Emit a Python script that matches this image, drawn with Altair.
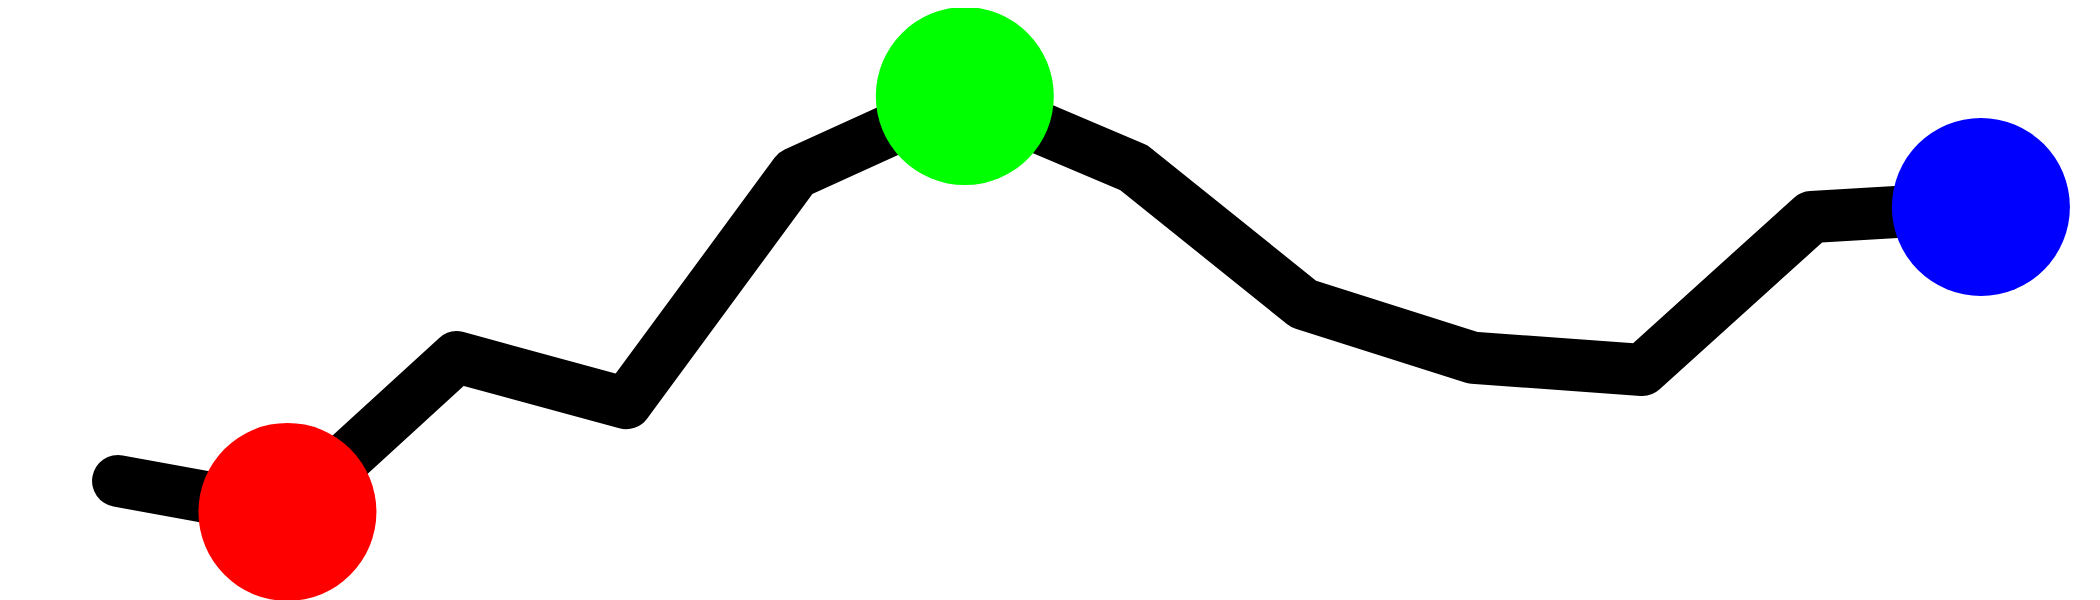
import pandas as pd
import altair as alt


# values (x is the point index, y in 0-100 units)
steps = list(range(12))
values = [19.7, 14.4, 40.9, 33.0, 72.4, 85.6, 73.3, 50.0, 40.8, 38.7, 64.9, 66.6]

# highlighted points
marker_steps = [1, 5, 11]
marker_names = ['low', 'peak', 'last']
marker_colors = ['#ff0000', '#00ff00', '#0000ff']

df = pd.DataFrame({'step': steps, 'value': values})
markers = pd.DataFrame({
    'step': marker_steps,
    'value': [values[i] for i in marker_steps],
    'name': marker_names,
})

x_scale = alt.Scale(domain=[-0.65, 11.656], nice=False, zero=False)
y_scale = alt.Scale(domain=[0, 100], nice=False, zero=False)

line = alt.Chart(df).mark_line(
    color='black', strokeWidth=52, strokeCap='round', strokeJoin='round'
).encode(
    alt.X('step', type='quantitative', scale=x_scale, axis=None),
    alt.Y('value', type='quantitative', scale=y_scale, axis=None),
)

points = alt.Chart(markers).mark_point(
    shape='circle', filled=True, opacity=1, size=31684, strokeWidth=0
).encode(
    alt.X('step', type='quantitative', scale=x_scale, axis=None),
    alt.Y('value', type='quantitative', scale=y_scale, axis=None),
    alt.Color('name', type='nominal', legend=None,
              scale=alt.Scale(domain=marker_names, range=marker_colors)),
)

chart = (line + points).properties(
    width=2084,
    height=584,
    padding={'top': 4, 'left': 0, 'right': 0, 'bottom': 10},
    autosize=alt.AutoSizeParams(type='none'),
    background='white',
).configure_view(strokeWidth=0)

chart.save("out.html", embed_options={"renderer": "svg", "actions": False})
